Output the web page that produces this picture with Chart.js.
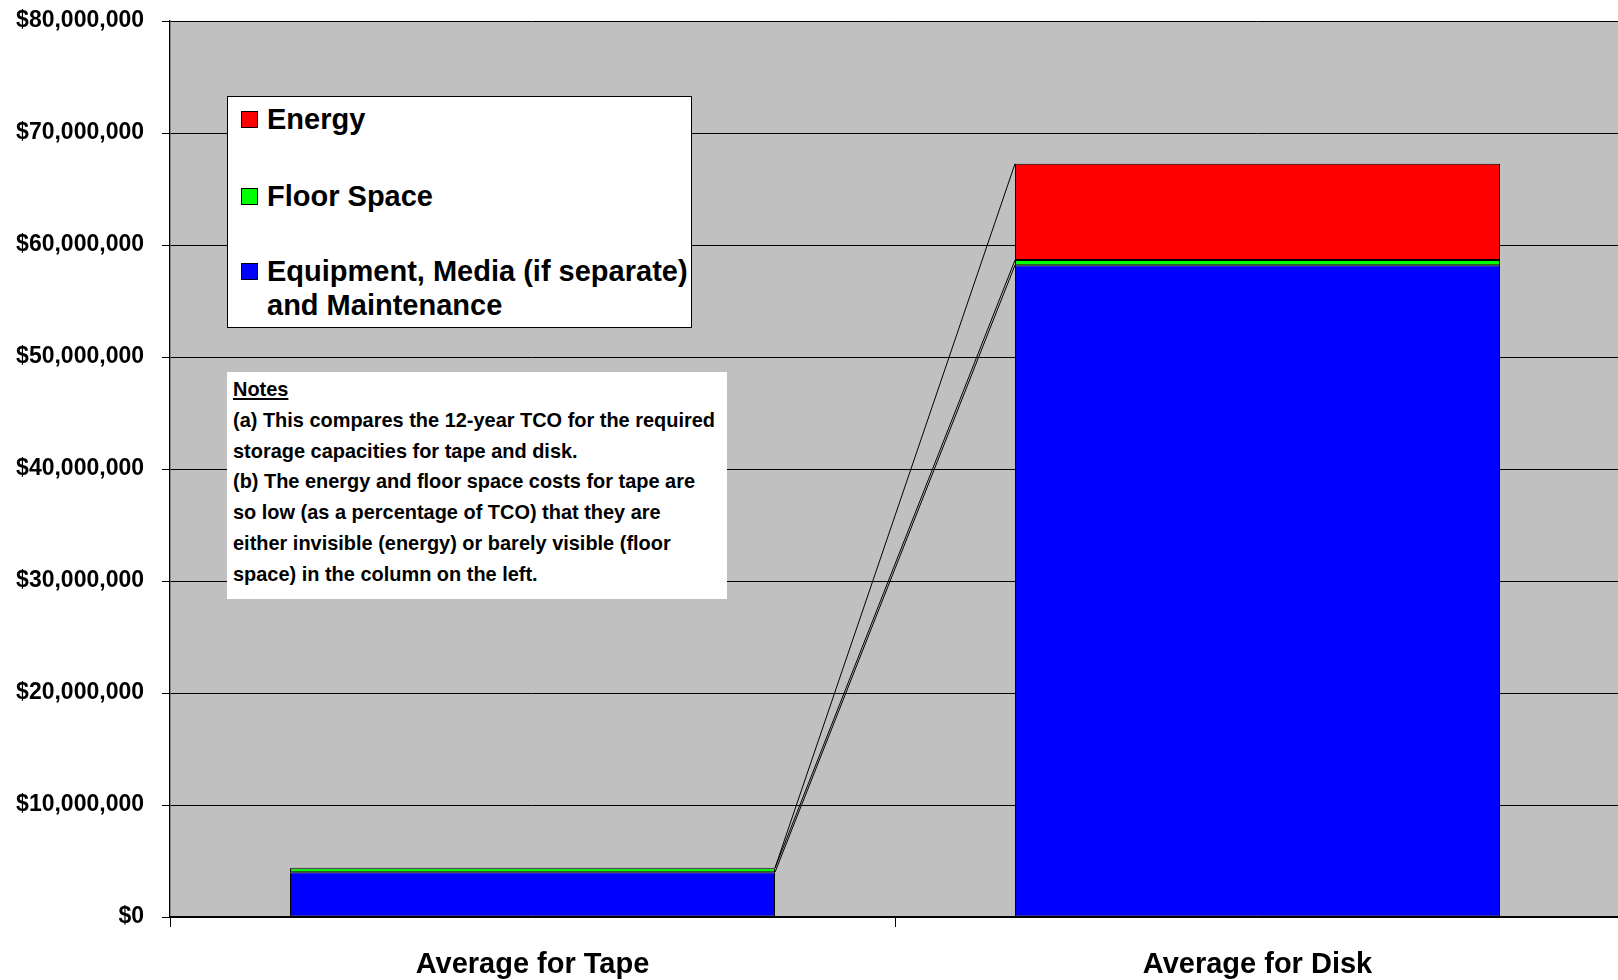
<!DOCTYPE html>
<html>
<head>
<meta charset="utf-8">
<script src="https://cdn.jsdelivr.net/npm/chart.js@4"></script>
<style>
html, body { margin: 0; padding: 0; background: #fff; overflow: hidden; }
#wrap { position: relative; width: 1620px; height: 980px; }
#legend {
  position: absolute; left: 227px; top: 96px; width: 465px; height: 232px;
  box-sizing: border-box; background: #fff; border: 1px solid #000;
  font: bold 29px "Liberation Sans", Arial, sans-serif; color: #000;
}
#legend .row { position: absolute; left: 39px; line-height: 34px; white-space: nowrap; }
#legend .sw { position: absolute; left: 13px; width: 17px; height: 17px; box-sizing: border-box; border: 1px solid #000; }
#notes {
  position: absolute; left: 227px; top: 372px; width: 500px; height: 227px;
  background: #fff; overflow: hidden;
}
#notesText {
  position: absolute; left: 6px; top: 2px; transform-origin: 0 0;
  font: bold 21px "Liberation Sans", Arial, sans-serif; line-height: 30.8px; color: #000;
}
#notesText div { white-space: nowrap; }
#notesText span { display: inline-block; }
</style>
</head>
<body>
<div id="wrap">
  <canvas id="tcoChart" width="1620" height="980"></canvas>
  <div id="legend"></div>
  <div id="notes"><div id="notesText"></div></div>
</div>
<script>
// 12-year TCO, tape vs disk (US dollars)
const categories = ["Average for Tape", "Average for Disk"];
const equipmentMedia = [4000000, 58200000];
const floorSpace = [360000, 450000];
const energy = [30000, 8600000];

const seriesNames = ["Equipment, Media (if separate)\nand Maintenance", "Floor Space", "Energy"];
const seriesColors = ["#0000FF", "#00FF00", "#FF0000"];

const yMax = 80000000;
const yStep = 10000000;

const notesTitle = "Notes";
const notesLines = [
  "(a) This compares the 12-year TCO for the required",
  "storage capacities for tape and disk.",
  "(b) The energy and floor space costs for tape are",
  "so low (as a percentage of TCO) that they are",
  "either invisible (energy) or barely visible (floor",
  "space) in the column on the left."
];

const fontFamily = "'Liberation Sans', Arial, sans-serif";

// gray plot area like the old Excel default
const plotBg = {
  id: "plotBg",
  beforeDraw(chart) {
    const { ctx, chartArea: a } = chart;
    ctx.save();
    ctx.fillStyle = "#C0C0C0";
    ctx.fillRect(a.left, a.top, a.right - a.left, a.bottom - a.top);
    ctx.restore();
  }
};

// series lines joining the tops of each segment between the two columns
const seriesLines = {
  id: "seriesLines",
  afterDatasetsDraw(chart) {
    const ctx = chart.ctx;
    ctx.save();
    ctx.strokeStyle = "#000";
    ctx.lineWidth = 1;
    chart.data.datasets.forEach((ds, i) => {
      const bars = chart.getDatasetMeta(i).data;
      for (let k = 0; k < bars.length - 1; k++) {
        const a = bars[k], b = bars[k + 1];
        ctx.beginPath();
        ctx.moveTo(a.x + a.width / 2, a.y);
        ctx.lineTo(b.x - b.width / 2, b.y);
        ctx.stroke();
      }
    });
    ctx.restore();
  }
};

const seriesData = [equipmentMedia, floorSpace, energy];

new Chart(document.getElementById("tcoChart"), {
  type: "bar",
  data: {
    labels: categories,
    datasets: seriesData.map((d, i) => ({
      label: seriesNames[i],
      data: d,
      backgroundColor: seriesColors[i],
      borderColor: "#000",
      borderWidth: 1,
      borderSkipped: false,
      categoryPercentage: 1,
      barPercentage: 0.669
    }))
  },
  options: {
    responsive: false,
    animation: false,
    layout: { padding: { top: 21, right: 0, bottom: 0, left: 0 } },
    plugins: { legend: { display: false }, tooltip: { enabled: false } },
    scales: {
      x: {
        stacked: true,
        grid: { drawOnChartArea: false, drawTicks: true, tickLength: 10, color: "#000", offset: true },
        border: { display: true, color: "#000", width: 1.5 },
        ticks: { color: "#000", padding: 21, maxRotation: 0, font: { family: fontFamily, size: 29, weight: "bold" } },
        afterFit(s) { s.height = 63; s.paddingLeft = 0; s.paddingRight = 0; }
      },
      y: {
        stacked: true,
        min: 0,
        max: yMax,
        grid: { color: "#000", lineWidth: 1, tickLength: 8 },
        border: { display: true, color: "#000", width: 1.3 },
        ticks: {
          stepSize: yStep,
          color: "#000",
          padding: 18,
          font: { family: fontFamily, size: 23, weight: "bold" },
          callback: v => "$" + v.toLocaleString("en-US")
        },
        afterFit(s) { s.width = 170; s.paddingTop = 0; s.paddingBottom = 0; }
      }
    }
  },
  plugins: [plotBg, seriesLines]
});

// legend, top series first
const legend = document.getElementById("legend");
const rowTops = [5, 82, 157];
[2, 1, 0].forEach((si, r) => {
  const sw = document.createElement("div");
  sw.className = "sw";
  sw.style.top = (rowTops[r] + 9) + "px";
  sw.style.background = seriesColors[si];
  legend.appendChild(sw);
  const row = document.createElement("div");
  row.className = "row";
  row.style.top = rowTops[r] + "px";
  row.innerHTML = seriesNames[si].replace("\n", "<br>");
  legend.appendChild(row);
});

// notes box, narrow bold text
const notesText = document.getElementById("notesText");
const t = document.createElement("div");
t.innerHTML = "<span style='text-decoration:underline'>" + notesTitle + "</span>";
notesText.appendChild(t);
let widest = 0;
notesLines.forEach(line => {
  const d = document.createElement("div");
  const s = document.createElement("span");
  s.textContent = line;
  d.appendChild(s);
  notesText.appendChild(d);
  widest = Math.max(widest, s.getBoundingClientRect().width);
});
notesText.style.transform = "scaleX(" + (482 / widest) + ")";
</script>
</body>
</html>
